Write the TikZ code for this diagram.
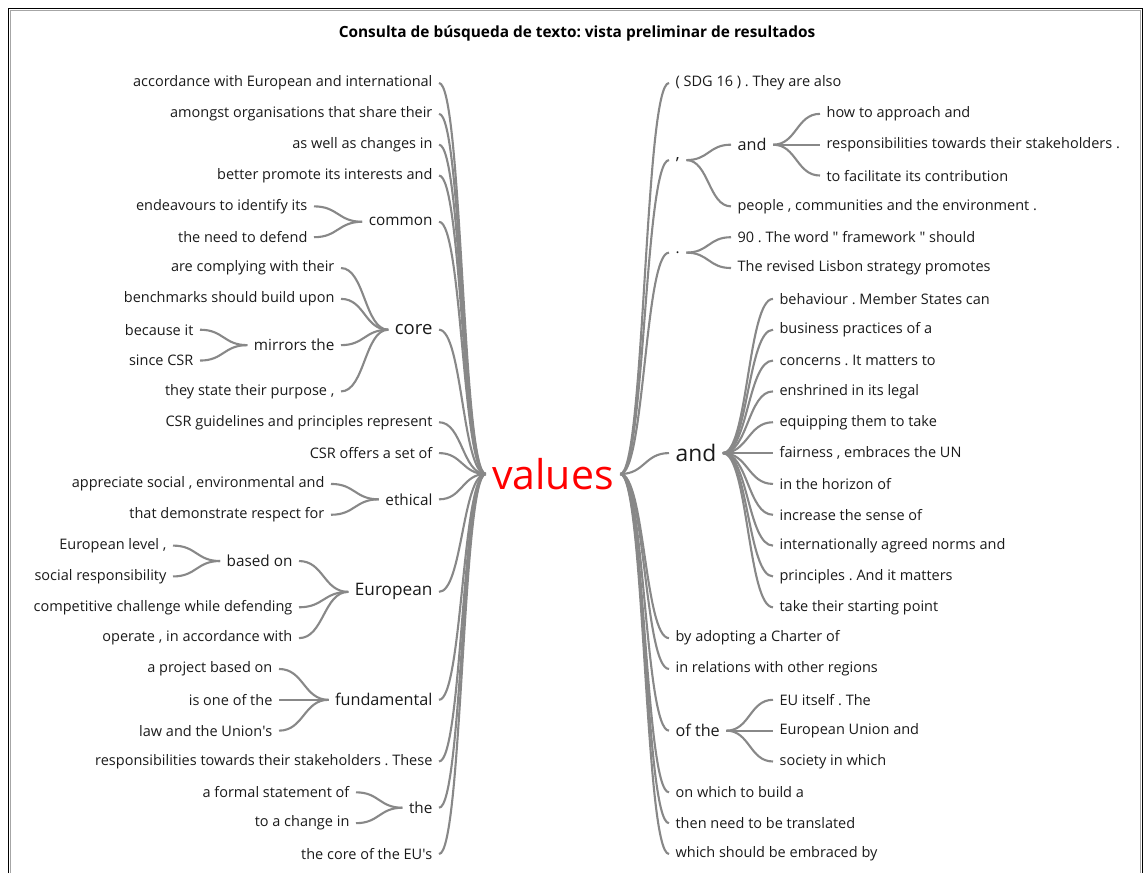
\documentclass[tikz,border=0pt]{standalone}
\usepackage{fontspec}
\setmainfont{Open Sans}
\frenchspacing
\usetikzlibrary{calc}
\definecolor{cink}{HTML}{1A1A1A}
\definecolor{cwire}{HTML}{888888}
\definecolor{cred}{HTML}{FF0000}
\tikzset{
  every picture/.style={line width=1.2pt},
  leaf/.style={text=cink, inner xsep=6pt, inner ysep=2pt, font=\fontsize{14.5}{17}\selectfont},
  hub/.style={leaf, font=\fontsize{#1}{#1}\selectfont},
  hub/.default=15.3,
  root/.style={text=cred, inner xsep=6pt, font=\fontsize{41}{41}\selectfont},
  twig/.style={draw=cwire, line width=2.1pt},
  title/.style={font=\bfseries\fontsize{15.4}{17}\selectfont, text=black},
}
\newcommand{\rowy}[1]{83+30.84*(#1)}
\newcommand{\wtlink}[2]{\draw[twig] let \p1=(#1), \p2=(#2) in (\p1) .. controls ({(\x1+\x2)/2},\y1) and ({(\x1+\x2)/2},\y2) .. (\p2)}
\begin{document}
\begin{tikzpicture}[x=1pt, y=-1pt]
  \useasboundingbox (0,0) rectangle (1145,873);
  % window frame, open at the bottom
  \draw[black!35, line width=1pt] (10.2,873) |- (1140.8,10.2) -- (1140.8,873);
  \draw[black, line width=1.6pt] (8.5,873) |- (1142.4,8.5) -- (1142.4,873);
  \node[title] (head) at (577,33) {Consulta de búsqueda de texto: vista preliminar de resultados};
  \node[root] (v) at (553,474) {values};

  % left: hubs
  \node[hub, anchor=east] (common) at (439,{\rowy{4.5}}) {common};
  \node[hub=18.5, anchor=east] (core) at (439,{\rowy{8}}) {core};
  \node[hub, anchor=east] (mirrors) at (341,{\rowy{8.5}}) {mirrors the};
  \node[hub, anchor=east] (ethical) at (439,{\rowy{13.5}}) {ethical};
  \node[hub=17.2, anchor=east] (european) at (439,{\rowy{16.5}}) {European};
  \node[hub, anchor=east] (basedon) at (299,{\rowy{15.5}}) {based on};
  \node[hub=16.2, anchor=east] (fundamental) at (439,{\rowy{20}}) {fundamental};
  \node[hub, anchor=east] (theL) at (439,{\rowy{23.5}}) {the};
  \foreach \h in {common, core, ethical, european, fundamental, theL} \wtlink{v.west}{\h.east};
  \wtlink{core.west}{mirrors.east};
  \wtlink{european.west}{basedon.east};

  % left: leaves, parent/x/row/text
  \foreach \up/\xx/\r/\txt in {
    v/439/0/{accordance with European and international},
    v/439/1/{amongst organisations that share their},
    v/439/2/{as well as changes in},
    v/439/3/{better promote its interests and},
    common/314/4/{endeavours to identify its},
    common/314/5/{the need to defend},
    core/341/6/{are complying with their},
    core/341/7/{benchmarks should build upon},
    mirrors/200/8/{because it},
    mirrors/200/9/{since CSR},
    core/341/10/{they state their purpose ,},
    v/439/11/{CSR guidelines and principles represent},
    v/439/12/{CSR offers a set of},
    ethical/331/13/{appreciate social , environmental and},
    ethical/331/14/{that demonstrate respect for},
    basedon/173/15/{European level ,},
    basedon/173/16/{social responsibility},
    european/299/17/{competitive challenge while defending},
    european/299/18/{operate , in accordance with},
    fundamental/279/19/{a project based on},
    fundamental/279/20/{is one of the},
    fundamental/279/21/{law and the Union\textquotesingle s},
    v/439/22/{responsibilities towards their stakeholders . These},
    theL/356/23/{a formal statement of},
    theL/356/24/{to a change in},
    v/439/25/{the core of the EU\textquotesingle s}} {
    \node[leaf, anchor=east] (L\r) at (\xx,{\rowy{\r}}) {\txt};
    \wtlink{\up.west}{L\r.east};
  }

  % right: hubs
  \node[hub=17.2, anchor=west] (comma) at (669,{\rowy{2.5}}) {,};
  \node[hub=16.2, anchor=west] (andS) at (731,{\rowy{2}}) {and};
  \node[hub, anchor=west] (dot) at (669,{\rowy{5.5}}) {.};
  \node[hub=22.8, anchor=west] (andB) at (669,{\rowy{12}}) {and};
  \node[hub=16.2, anchor=west] (ofthe) at (669,{\rowy{21}}) {of the};
  \foreach \h in {comma, dot, andB, ofthe} \wtlink{v.east}{\h.west};
  \wtlink{comma.east}{andS.west};

  % right: leaves, parent/x/row/text
  \foreach \up/\xx/\r/\txt in {
    v/669/0/{( SDG 16 ) . They are also},
    andS/820/1/{how to approach and},
    andS/820/2/{responsibilities towards their stakeholders .},
    andS/820/3/{to facilitate its contribution},
    comma/731/4/{people , communities and the environment .},
    dot/731/5/{90 . The word \textquotedbl{} framework \textquotedbl{} should},
    dot/731/6/{The revised Lisbon strategy promotes},
    andB/773/7/{behaviour . Member States can},
    andB/773/8/{business practices of a},
    andB/773/9/{concerns . It matters to},
    andB/773/10/{enshrined in its legal},
    andB/773/11/{equipping them to take},
    andB/773/12/{fairness , embraces the UN},
    andB/773/13/{in the horizon of},
    andB/773/14/{increase the sense of},
    andB/773/15/{internationally agreed norms and},
    andB/773/16/{principles . And it matters},
    andB/773/17/{take their starting point},
    v/669/18/{by adopting a Charter of},
    v/669/19/{in relations with other regions},
    ofthe/773/20/{EU itself . The},
    ofthe/773/21/{European Union and},
    ofthe/773/22/{society in which},
    v/669/23/{on which to build a},
    v/669/24/{then need to be translated},
    v/669/25/{which should be embraced by}} {
    \node[leaf, anchor=west] (R\r) at (\xx,{\rowy{\r}}) {\txt};
    \wtlink{\up.east}{R\r.west};
  }
\end{tikzpicture}
\end{document}
